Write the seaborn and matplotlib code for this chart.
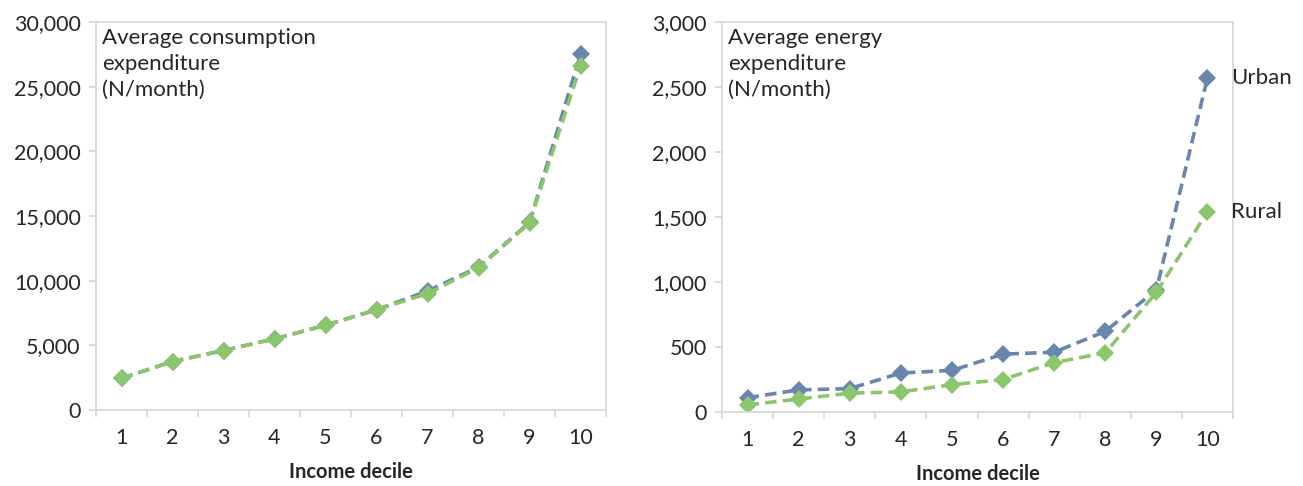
import matplotlib
matplotlib.use("Agg")
import matplotlib.pyplot as plt
import matplotlib.ticker as mticker
import seaborn as sns
import pandas as pd

deciles = [1, 2, 3, 4, 5, 6, 7, 8, 9, 10]
consumption_urban = [2450, 3750, 4600, 5500, 6550, 7750, 9200, 11050, 14500, 27500]
consumption_rural = [2450, 3750, 4600, 5500, 6550, 7750, 9000, 11000, 14450, 26600]
energy_urban = [110, 170, 180, 300, 320, 445, 460, 620, 940, 2570]
energy_rural = [55, 100, 145, 155, 210, 250, 380, 455, 920, 1540]
series_names = ["Urban", "Rural"]
x_label = "Income decile"
left_note = "Average consumption\nexpenditure\n(N/month)"
right_note = "Average energy\nexpenditure\n(N/month)"

sns.set_theme(style="white")
plt.rcParams["font.family"] = ["Lato", "DejaVu Sans"]

blue = "#6A85AE"
green = "#8CC66C"
grid_c = "#D9D9D9"
txt_c = "#262626"

fig = plt.figure(figsize=(13.03, 4.86), dpi=100)
axL = fig.add_axes([96/1303, 1-410/486, 510/1303, 388/486])
axR = fig.add_axes([722/1303, 1-412/486, 511/1303, 390/486])


def make_df(urban, rural):
    return pd.DataFrame({
        "decile": deciles * 2,
        "value": urban + rural,
        "area": [series_names[0]] * len(deciles) + [series_names[1]] * len(deciles),
    })


def draw(ax, df, ymax, ystep, note):
    sns.lineplot(data=df, x="decile", y="value", hue="area", style="area",
                 palette={"Urban": blue, "Rural": green},
                 dashes={"Urban": (3.2, 1.7), "Rural": (3.2, 1.7)},
                 markers={"Urban": "D", "Rural": "D"}, markersize=9,
                 markeredgewidth=0, linewidth=2.6, ax=ax, legend=False)
    ax.set_xlim(0.5, 10.5)
    ax.set_ylim(0, ymax)
    ax.yaxis.set_major_locator(mticker.MultipleLocator(ystep))
    ax.yaxis.set_major_formatter(mticker.FuncFormatter(lambda v, p: f"{int(v):,}"))
    ax.set_xticks(deciles)
    ax.set_xticks([d + 0.5 for d in [0] + deciles], minor=True)
    ax.tick_params(axis="x", which="major", length=0, pad=13, labelsize=15.5, colors=txt_c)
    ax.tick_params(axis="x", which="minor", length=5, width=1.3, color=grid_c, direction="out")
    ax.tick_params(axis="y", which="major", length=5, width=1.3, color=grid_c,
                   direction="out", labelsize=15.5, labelcolor=txt_c, pad=6)
    ax.tick_params(bottom=True, left=True, which="both")
    for s in ax.spines.values():
        s.set_visible(True)
        s.set_color(grid_c)
        s.set_linewidth(1.3)
    ax.set_xlabel(x_label, fontsize=14.5, fontweight="bold", color=txt_c, labelpad=10)
    ax.set_ylabel("")
    ax.text(0.012, 0.985, note, transform=ax.transAxes, ha="left", va="top",
            fontsize=16, color=txt_c, linespacing=1.38)


draw(axL, make_df(consumption_urban, consumption_rural), 30000, 5000, left_note)
draw(axR, make_df(energy_urban, energy_rural), 3000, 500, right_note)

axR.annotate(series_names[0], xy=(10, energy_urban[-1]), xytext=(17, 0),
             textcoords="offset points", ha="left", va="center",
             fontsize=16, color=txt_c, annotation_clip=False)
axR.annotate(series_names[1], xy=(10, energy_rural[-1]), xytext=(17, 0),
             textcoords="offset points", ha="left", va="center",
             fontsize=16, color=txt_c, annotation_clip=False)

fig.savefig("out.png", dpi=100, facecolor="white")
